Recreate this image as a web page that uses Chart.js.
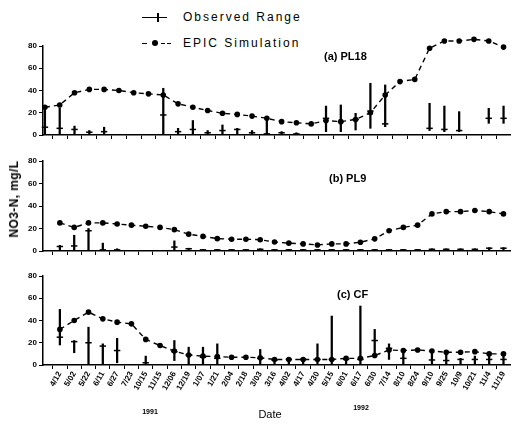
<!DOCTYPE html>
<html>
<head>
<meta charset="utf-8">
<script src="https://cdn.jsdelivr.net/npm/chart.js@4/dist/chart.umd.min.js"></script>
<style>
  body { margin: 0; background: #fff; width: 516px; height: 424px; position: relative; overflow: hidden;
         font-family: "Liberation Sans", Arial, sans-serif; color: #000; }
  canvas { position: absolute; left: 0; }
  .txt { position: absolute; white-space: nowrap; line-height: 1; }
  .panel { font-weight: bold; font-size: 11px; }
  .yr { font-weight: bold; font-size: 7px; }
  .key { font-size: 12px; letter-spacing: 2px; }
  .blk { position: absolute; background: #000; }
</style>
</head>
<body>

<!-- legend -->
<div class="blk" style="left:142px; top:17px; width:25px; height:1.2px"></div>
<div class="blk" style="left:157px; top:13px; width:1.5px; height:9px"></div>
<div class="txt key" style="left:183px; top:11px">Observed Range</div>
<div class="blk" style="left:142px; top:42.5px; width:5px; height:1.5px"></div>
<div class="blk" style="left:152px; top:40px; width:6px; height:6px; border-radius:3px"></div>
<div class="blk" style="left:161px; top:42.5px; width:4px; height:1.5px"></div>
<div class="blk" style="left:167px; top:42.5px; width:4px; height:1.5px"></div>
<div class="txt key" style="left:183px; top:37px">EPIC Simulation</div>

<canvas id="chartA" width="516" height="145" style="top:0px"></canvas>
<canvas id="chartB" width="516" height="115" style="top:145px"></canvas>
<canvas id="chartC" width="516" height="164" style="top:260px"></canvas>

<div class="txt panel" style="left:324px; top:51px">(a) PL18</div>
<div class="txt panel" style="left:329px; top:173px">(b) PL9</div>
<div class="txt panel" style="left:337px; top:289px">(c) CF</div>

<div class="txt" style="left:14px; top:199px; font-size:12px; font-weight:bold; letter-spacing:0.4px; transform: translate(-50%,-50%) rotate(-90deg)">NO3-N, mg/L</div>
<div class="txt yr" style="left:150px; top:411px; transform: translate(-50%,-50%)">1991</div>
<div class="txt" style="left:270px; top:414px; font-size:11px; transform: translate(-50%,-50%)">Date</div>
<div class="txt yr" style="left:361px; top:407px; transform: translate(-50%,-50%)">1992</div>

<script>
// sampling dates (1991 - 1992)
const dates = ['4/12','5/02','5/22','6/11','6/27','7/23','10/15','11/15','12/06','12/19','1/07','1/21',
  '2/04','2/18','3/03','3/16','4/02','4/17','4/30','5/15','6/01','6/17','6/30','7/14','8/10','8/24',
  '9/10','9/25','10/9','10/21','11/4','11/19'];
const yTicks = [0, 20, 40, 60, 80];

// (a) PL18
const pl18Sim  = [25,27,38,41,41,40,38,37,36,28,25,22,19.5,18.5,17,15,12,11,10,13,12,14,20,36,48,50,78,84.5,84.5,86,84.5,79];
const pl18Low  = [0,0,1,1,1,null,null,null,0,1,0,0,1,1,0,1,0,0,null,3,3,4.5,6,7.5,null,null,4,3,3,null,10.5,10.5];
const pl18High = [25,24,8,4,7,null,null,null,42,6,13,4,9,6,4,15,3,2,null,26,27,19.5,46.5,45,null,null,28.5,26,21,null,24,26];
const pl18Mean = [7,6,5,2.5,3,null,null,null,18,3,5,2,4,5,2,1,2,1,null,15,12,14,21.5,10,null,null,6,5,4,null,15,15];

// (b) PL9
const pl9Sim  = [25,21,25,25,24,23,22,21,19,15,13,11,10.5,10.5,10,8,7,6.3,5.4,6.3,6.3,7.8,10.8,18,21,23,33,35,35,36,35,33];
const pl9Low  = [1,1,0,0,0,null,null,null,0,0,0,0,0,0,0,0,0,0,0,0,0,0,0,0,0,0,0,0,0,0,0,0];
const pl9High = [5,14,20,7,2,null,null,null,9,2.5,1.5,1.5,1.5,1.5,2,1.5,1.5,1.5,1.5,1.5,1.5,1.5,1.5,1.5,1.5,1.5,2,2,2,2,3,3];
const pl9Mean = [4,4.5,18,1,1,null,null,null,3.5,2,1,1,1,1,1.5,1,1,1,1,1,1,1,1,1,1,1,1.5,1.5,1.5,1.5,2.5,2.5];

// (c) CF
const cfSim  = [32,40,47.5,41.5,38.5,37,23,17.5,12.5,9,8,7.5,7,7,6.5,5,5,5,5,5,6,6,8.5,13.5,13,13.5,12.5,11.5,11.5,12,10,10];
const cfLow  = [18,11,0,0,2,null,0,null,4,0,1,1,null,null,1,1,1,1,1,1,1,1,7,5,1,null,1,0,1,1,1,1];
const cfHigh = [50,22,34,19,24,null,8,null,22,16,16,19,null,null,14,5,5,5,19,44,7,53,32,19,13,null,13,11,6,8,10,10];
const cfMean = [25,21,20,17,13,null,2,null,12,9,7,6,null,null,6,4.5,5,5,5,5,5,5,22,15,6,null,4.5,4,5,5,5,5];

Chart.defaults.font.family = '"Liberation Sans", Arial, sans-serif';
Chart.defaults.color = '#000';

// points above the 80 tick still have to be drawn, so give the datasets some headroom
const headroom = {
  id: 'headroom',
  beforeDatasetsDraw(chart) { chart._areaTop = chart.chartArea.top; chart.chartArea.top -= 14; },
  afterDatasetsDraw(chart) { chart.chartArea.top = chart._areaTop; }
};

function points(arr) {
  return arr.map((v, i) => v == null ? null : { x: i, y: v }).filter(p => p);
}

function makePanel(id, sim, low, high, mean, cfg) {
  const ranges = low.map((l, i) => l == null ? null : { x: i, y: [l, high[i]] }).filter(p => p);
  return new Chart(document.getElementById(id), {
    type: 'line',
    plugins: [headroom],
    data: {
      datasets: [
        {
          label: 'EPIC Simulation',
          data: points(sim),
          borderColor: '#000',
          borderWidth: 1.4,
          borderDash: [5, 4],
          pointRadius: 2.8,
          pointBackgroundColor: '#000',
          pointBorderWidth: 0,
          clip: false
        },
        {
          type: 'bar',
          label: 'Observed Range',
          data: ranges,
          backgroundColor: '#000',
          borderWidth: 0,
          barThickness: 1.6,
          clip: false
        },
        {
          label: 'Observed',
          data: points(mean),
          showLine: false,
          pointStyle: 'line',
          pointRadius: 3.2,
          borderColor: '#000',
          borderWidth: 1.5,
          clip: false
        }
      ]
    },
    options: {
      responsive: false,
      animation: false,
      layout: { padding: { top: cfg.top, right: 2, bottom: 0, left: 0 } },
      plugins: { legend: { display: false }, tooltip: { enabled: false } },
      scales: {
        x: {
          type: 'linear',
          min: cfg.xMin,
          max: cfg.xMax,
          offset: false,
          afterBuildTicks: ax => { ax.ticks = dates.map((d, i) => ({ value: i })); },
          afterFit: s => { s.height = cfg.xHeight; },
          ticks: {
            display: cfg.labels,
            autoSkip: false,
            minRotation: 60,
            maxRotation: 60,
            padding: 1,
            font: { size: 8, weight: 'bold' },
            callback: v => dates[Math.round(v)]
          },
          grid: { drawOnChartArea: false, drawTicks: true, tickLength: 4, color: '#000', lineWidth: 1 },
          border: { display: true, color: '#000', width: 1.5 }
        },
        y: {
          min: 0,
          max: 80,
          afterBuildTicks: ax => { ax.ticks = yTicks.map(v => ({ value: v })); },
          afterFit: s => { s.width = 43; },
          ticks: { padding: 2, font: { size: 8, weight: 'bold' } },
          grid: { drawOnChartArea: false, drawTicks: true, tickLength: 4, color: '#000', lineWidth: 1 },
          border: { display: true, color: '#000', width: 1.5 }
        }
      }
    }
  });
}

makePanel('chartA', pl18Sim, pl18Low, pl18High, pl18Mean,
  { top: 46, xHeight: 10, xMin: -0.13, xMax: 31.47, labels: false });
makePanel('chartB', pl9Sim, pl9Low, pl9High, pl9Mean,
  { top: 16, xHeight: 9, xMin: -1.18, xMax: 31.49, labels: false });
makePanel('chartC', cfSim, cfLow, cfHigh, cfMean,
  { top: 16, xHeight: 59, xMin: -1.18, xMax: 31.49, labels: true });
</script>
</body>
</html>
